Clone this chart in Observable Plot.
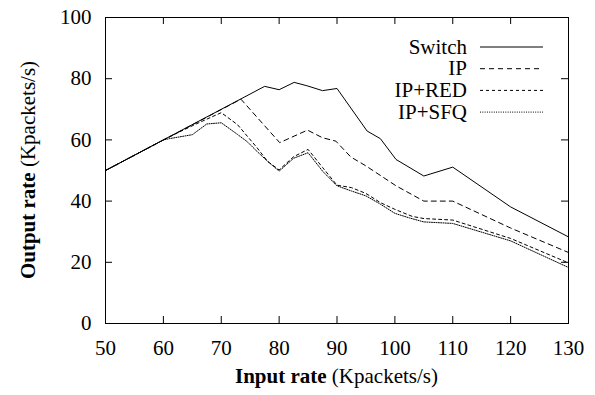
<!DOCTYPE html>
<html><head><meta charset="utf-8">
<script src="https://cdn.jsdelivr.net/npm/d3@7"></script>
<script src="https://cdn.jsdelivr.net/npm/@observablehq/plot@0.6"></script>
<style>body{margin:0;background:#fff}#chart svg{display:block}</style>
</head><body>
<div id="chart"></div>
<script>
const seriesNames = ["Switch", "IP", "IP+RED", "IP+SFQ"];
const xTicks = [50, 60, 70, 80, 90, 100, 110, 120, 130];
const yTicks = [0, 20, 40, 60, 80, 100];

const switchX = [50, 77.5, 80, 82.6, 84.8, 87.5, 90, 95.2, 97.5, 100.2, 105, 110, 120, 130];
const switchY = [50, 77.5, 76.4, 78.8, 77.7, 76.1, 76.8, 62.9, 60.4, 53.6, 48.2, 51.1, 38.1, 28.3];

const ipX = [50, 73.4, 80.1, 84.9, 87.5, 89.8, 92.4, 95, 100.2, 105, 110, 120, 130];
const ipY = [50, 73.3, 59.1, 63.2, 60.7, 59.6, 54.4, 51.5, 45, 40, 40, 31.2, 23.2];

const redX = [50, 60, 63, 66, 70, 72.8, 74.5, 76.2, 78, 80, 82.5, 85, 87.5, 90, 92.5, 95, 97.5, 100, 103, 105, 110, 120, 130];
const redY = [50, 60, 62.8, 65.5, 68.9, 65, 61.2, 57.4, 53, 50.2, 54.5, 56.9, 51, 45.2, 44.4, 42.5, 39.5, 37.3, 35, 34.3, 33.8, 27.8, 19.8];

const sfqX = [50, 60, 61, 65, 67.5, 70, 72.8, 74.5, 76.2, 78, 80, 82.5, 85, 87.5, 90, 92.5, 95, 97.5, 100, 102.5, 105, 110, 120, 130];
const sfqY = [50, 60, 60.4, 61.7, 65.2, 65.6, 61.8, 59.4, 56.2, 53, 49.8, 54, 55.8, 49.8, 45, 43.3, 41.7, 39, 36, 34.5, 33.2, 32.7, 27, 18.3];

const dashes = ["none", "5,4", "3,3", "1,1.3"];
const xs = [switchX, ipX, redX, sfqX];
const ys = [switchY, ipY, redY, sfqY];

const W = 595, H = 395, mL = 105, mR = 27, mT = 17, mB = 72;
const plotW = W - mL - mR, plotH = H - mT - mB, tk = 7;
const FONT = "Liberation Serif";

const lineMarks = seriesNames.map((name, i) =>
  Plot.line(xs[i].map((x, j) => ({x, y: ys[i][j]})), {
    x: "x", y: "y", stroke: "black", strokeWidth: 1,
    strokeDasharray: dashes[i]
  })
);

const chart = Plot.plot({
  width: W, height: H,
  marginLeft: mL, marginRight: mR, marginTop: mT, marginBottom: mB,
  style: {fontFamily: FONT, fontSize: "21px"},
  x: {domain: [50, 130]},
  y: {domain: [0, 100]},
  marks: [
    ...lineMarks,
    Plot.tickX(xTicks, {x: d => d, stroke: "black", insetTop: plotH - tk}),
    Plot.tickX(xTicks, {x: d => d, stroke: "black", insetBottom: plotH - tk}),
    Plot.tickY(yTicks, {y: d => d, stroke: "black", insetRight: plotW - tk}),
    Plot.tickY(yTicks, {y: d => d, stroke: "black", insetLeft: plotW - tk}),
    Plot.axisX(xTicks, {anchor: "bottom", tickSize: 0, tickPadding: 17, label: null, fontSize: 21}),
    Plot.axisY(yTicks, {anchor: "left", tickSize: 0, tickPadding: 14, label: null, fontSize: 21}),
    Plot.frame({stroke: "black", strokeWidth: 1})
  ]
});
document.getElementById("chart").appendChild(chart);

const svg = d3.select(chart);
// axis titles
const xt = svg.append("text")
  .attr("x", mL + plotW / 2).attr("y", 383)
  .attr("text-anchor", "middle")
  .attr("font-size", 21).attr("fill", "black");
xt.append("tspan").attr("font-weight", "bold").text("Input rate");
xt.append("tspan").text(" (Kpackets/s)");

const yt = svg.append("text")
  .attr("transform", `translate(35,170) rotate(-90)`)
  .attr("text-anchor", "middle")
  .attr("font-size", 21).attr("fill", "black");
yt.append("tspan").attr("font-weight", "bold").text("Output rate");
yt.append("tspan").text(" (Kpackets/s)");

// legend
const lg = svg.append("g");
seriesNames.forEach((name, i) => {
  const yy = 47 + i * 21.7;
  lg.append("text").attr("x", 467).attr("y", yy).attr("dy", "0.32em")
    .attr("text-anchor", "end")
    .attr("font-size", 21).attr("fill", "black")
    .text(name);
  lg.append("line").attr("x1", 480).attr("x2", 543).attr("y1", yy).attr("y2", yy)
    .attr("stroke", "black").attr("stroke-width", 1)
    .attr("stroke-dasharray", dashes[i]);
});
svg.selectAll("text").attr("font-family", FONT + ", serif");
</script>
</body></html>
